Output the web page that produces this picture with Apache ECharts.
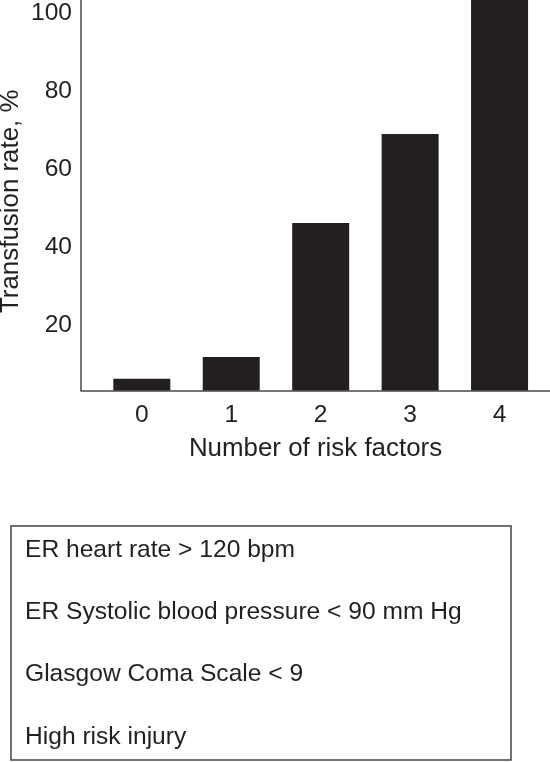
<!DOCTYPE html>
<html>
<head>
<meta charset="utf-8">
<script src="https://cdn.jsdelivr.net/npm/echarts@6/dist/echarts.min.js"></script>
<style>
html,body{margin:0;padding:0;background:#fff;}
#chart{width:550px;height:762px;}
</style>
</head>
<body>
<div id="chart"></div>
<script>
const categories = [0, 1, 2, 3, 4];
const transfusionRate = [6.2, 11.8, 46.2, 69, 104];
const yTicks = [20, 40, 60, 80, 100];
const xTitle = 'Number of risk factors';
const yTitle = 'Transfusion rate, %';
const riskFactors = [
  'ER heart rate > 120 bpm',
  'ER Systolic blood pressure < 90 mm Hg',
  'Glasgow Coma Scale < 9',
  'High risk injury'
];

const FONT = "'Liberation Sans', Arial, Helvetica, sans-serif";
const TEXT = '#231f20';
const AXIS = '#4a4a4a';

const chart = echarts.init(document.getElementById('chart'), null, {renderer: 'canvas'});

const graphics = [{
  type: 'rect',
  shape: {x: 11, y: 526, width: 500, height: 234},
  style: {fill: 'none', stroke: '#444', lineWidth: 1.5}
}];
riskFactors.forEach((t, i) => {
  graphics.push({
    type: 'text',
    x: 25,
    y: 550 + i * 62.3,
    style: {text: t, font: '24.6px ' + FONT, fill: TEXT, textVerticalAlign: 'middle', textAlign: 'left'}
  });
});

chart.setOption({
  animation: false,
  backgroundColor: '#fff',
  grid: {left: 81, right: 0, top: 0, bottom: 371.5, containLabel: false, outerBoundsMode: 'none'},
  xAxis: {
    type: 'value',
    min: -0.68,
    max: 4.564,
    name: xTitle,
    nameLocation: 'middle',
    nameGap: 45,
    nameMoveOverlap: false,
    nameTextStyle: {fontSize: 25.9, fontFamily: FONT, color: TEXT},
    axisLine: {show: true, onZero: false, lineStyle: {color: AXIS, width: 1.5}},
    axisTick: {show: false},
    splitLine: {show: false},
    axisLabel: {
      customValues: categories,
      fontSize: 24.6, fontFamily: FONT, color: TEXT, margin: 12,
      formatter: v => String(v)
    }
  },
  yAxis: {
    type: 'value',
    min: 3.2,
    max: 103.4,
    name: yTitle,
    nameLocation: 'middle',
    nameGap: 57,
    nameMoveOverlap: false,
    nameTextStyle: {fontSize: 25.9, fontFamily: FONT, color: TEXT, padding: [0, 12, 0, 0]},
    axisLine: {show: true, onZero: false, lineStyle: {color: AXIS, width: 1.5}},
    axisTick: {show: false},
    splitLine: {show: false},
    axisLabel: {
      customValues: yTicks,
      fontSize: 24.6, fontFamily: FONT, color: TEXT, margin: 9,
      formatter: v => String(v)
    }
  },
  series: [{
    type: 'bar',
    barWidth: 57,
    clip: true,
    itemStyle: {color: '#231f20'},
    data: categories.map((c, i) => [c, transfusionRate[i]])
  }],
  graphic: graphics
});
</script>
</body>
</html>
